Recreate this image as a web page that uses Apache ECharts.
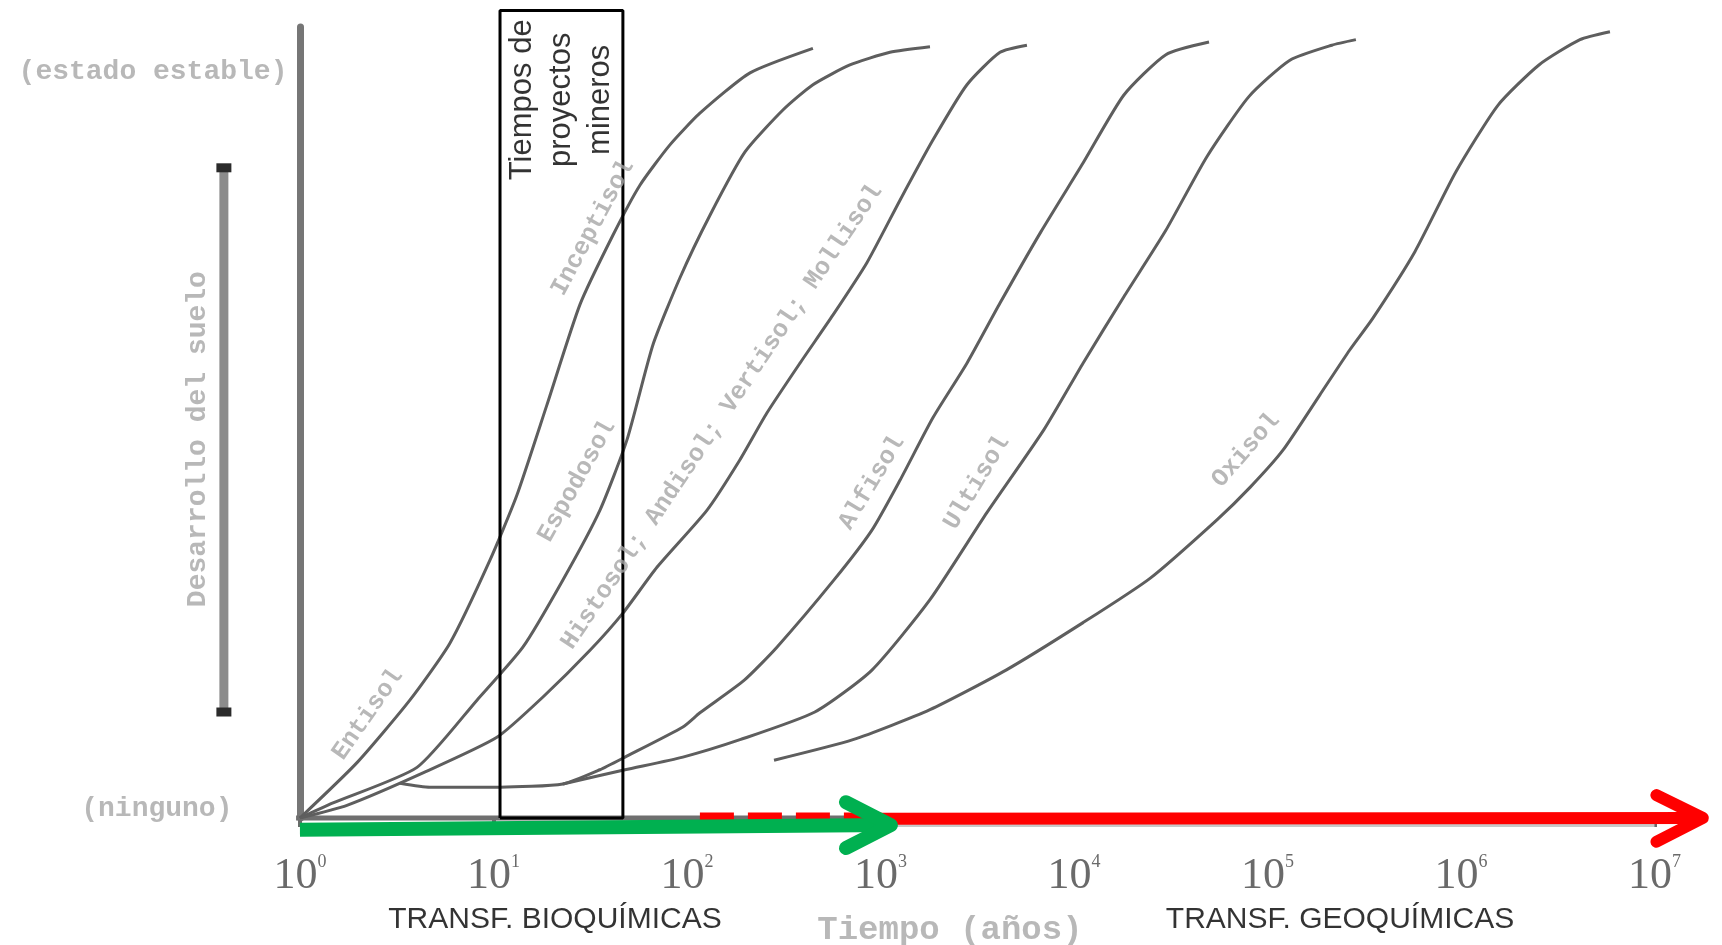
<!DOCTYPE html>
<html><head><meta charset="utf-8">
<script src="https://cdn.jsdelivr.net/npm/echarts@6.0.0/dist/echarts.min.js"></script>
<style>html,body{margin:0;padding:0;background:#fff}#c{width:1722px;height:945px}</style>
</head><body><div id="c"></div><script>
// x = log10(tiempo en años), y = desarrollo del suelo (0 = ninguno, 100 = estado estable)
const tickExponents = [0, 1, 2, 3, 4, 5, 6, 7];
const tickBase = '10';

const curveEntisolInceptisol = [[0,0],[0.295,7.0],[0.568,14.9],[0.775,22.1],[0.982,32.6],[1.121,40.8],[1.276,52.2],[1.447,64.9],[1.618,73.7],[1.757,80.0],[1.912,85.1],[2.067,89.1],[2.326,94.2],[2.651,97.3]];
const curveEspodosol = [[0,0],[0.171,1.9],[0.605,6.4],[0.915,14.9],[1.152,21.6],[1.359,30.1],[1.550,38.9],[1.690,47.8],[1.824,59.8],[1.964,68.3],[2.119,76.2],[2.300,84.2],[2.496,89.5],[2.651,92.7],[2.842,95.2],[3.049,96.8],[3.256,97.5]];
const curveHistosol = [[0,0],[0.243,1.6],[0.636,5.7],[1.018,10.2],[1.256,15.3],[1.499,21.2],[1.669,25.9],[1.845,31.7],[2.103,38.9],[2.274,45.3],[2.413,51.2],[2.584,57.5],[2.755,63.6],[2.930,70.2],[3.101,78.1],[3.271,85.7],[3.447,92.7],[3.618,96.8],[3.757,97.7]];
const curveAlfisol = [[0.517,4.4],[0.672,3.9],[1.034,3.9],[1.359,4.3],[1.550,6.1],[1.680,7.7],[1.979,11.5],[2.067,13.3],[2.295,17.4],[2.465,21.6],[2.760,30.1],[2.956,36.4],[3.101,42.7],[3.271,50.6],[3.447,57.5],[3.618,65.1],[3.829,74.1],[4.047,82.8],[4.258,91.4],[4.475,96.5],[4.698,98.1]];
const curveUltisol = [[1.359,4.3],[1.680,6.1],[1.979,7.7],[2.274,9.9],[2.661,13.4],[2.956,18.7],[3.256,27.6],[3.550,38.6],[3.845,49.1],[4.047,57.5],[4.258,65.9],[4.475,74.3],[4.687,83.6],[4.904,91.2],[5.116,95.8],[5.333,97.7],[5.457,98.4]];
const curveOxisol = [[2.450,7.3],[2.858,9.9],[3.256,13.7],[3.649,18.7],[4.047,24.7],[4.393,30.3],[4.739,37.7],[4.910,41.8],[5.080,46.5],[5.271,53.5],[5.426,59.2],[5.545,63.2],[5.762,71.6],[5.974,81.7],[6.191,90.1],[6.403,95.2],[6.615,98.4],[6.770,99.4]];

// recuadro "Tiempos de proyectos mineros" (de ~10^1 a ~10^1.67 años)
const miningBox = [[1.034,0],[1.034,102.1],[1.669,102.1],[1.669,0],[1.034,0]];
// eje de tiempo y flechas de transformaciones
const timeAxisLine = [[-0.02,0],[7,0]];
const timeAxisEdge = [[3.0,-0.95],[7,-0.95]];
const bioArrowShaft = [[0,-1.5],[3.054,-0.9]];
const bioArrowHead = [[2.822,2.0],[3.054,-0.9],[2.822,-3.8]];
const geoDashed = [[2.067,0.2],[2.987,0.2]];
const geoArrowShaft = [[2.987,-0.1],[7.25,0]];
const geoArrowHead = [[7.01,2.9],[7.25,0],[7.01,-3.0]];
const devArrow = [[-0.393,13.4],[-0.393,82.2]];

// etiquetas de las curvas: texto, x, y, ángulo
const curveLabels = [
  ['Entisol', 0.351, 13.1, 55],
  ['Inceptisol', 1.514, 74.6, 62],
  ['Espodosol', 1.432, 42.6, 61],
  ['Histosol; Andisol; Vertisol; Mollisol', 2.181, 50.7, 56],
  ['Alfisol', 2.956, 42.4, 59],
  ['Ultisol', 3.499, 42.4, 59],
  ['Oxisol', 4.889, 46.5, 49]
];
const yLevelLabels = [['(estado estable)', -0.062, 94.3], ['(ninguno)', -0.346, 1.1]];
const yTitle = ['Desarrollo del suelo', -0.527, 47.9];
const xTitle = ['Tiempo (años)', 3.359, -14.2];
const phaseLabels = [['TRANSF. BIOQUÍMICAS', 1.318, -12.8], ['TRANSF. GEOQUÍMICAS', 5.375, -12.8]];
const boxText = ['Tiempos de\nproyectos\nmineros', 1.349, 90.8];

const chart = echarts.init(document.getElementById('c'));
const greyMono = {fontFamily: 'Liberation Mono', fontWeight: 'bold', color: '#a6a6a6'};

function curve(name, data) {
  return {name, type: 'line', data, smooth: 0.2, symbol: 'none', silent: true,
    lineStyle: {color: '#5e5e5e', width: 3}, z: 3};
}
function poly(data, color, width, extra, z) {
  return {type: 'line', data, symbol: 'none', silent: true, clip: false,
    lineStyle: Object.assign({color, width}, extra || {}), z: z || 5};
}

const annotations = [];
curveLabels.forEach(([t, x, y, a]) => annotations.push({value: [x, y], label: Object.assign({show: true, formatter: t, position: 'inside', rotate: a, fontSize: 25}, greyMono)}));
yLevelLabels.forEach(([t, x, y]) => annotations.push({value: [x, y], label: Object.assign({show: true, formatter: t, position: 'left', distance: 0, fontSize: 28}, greyMono)}));
annotations.push({value: [yTitle[1], yTitle[2]], label: Object.assign({show: true, formatter: yTitle[0], position: 'inside', rotate: 90, fontSize: 28}, greyMono)});
annotations.push({value: [xTitle[1], xTitle[2]], label: Object.assign({show: true, formatter: xTitle[0], position: 'inside', fontSize: 34}, greyMono)});
phaseLabels.forEach(([t, x, y]) => annotations.push({value: [x, y], label: {show: true, formatter: t, position: 'inside', fontFamily: 'Liberation Sans', fontSize: 30, color: '#000'}}));
annotations.push({value: [boxText[1], boxText[2]], label: {show: true, formatter: boxText[0], position: 'inside', rotate: 90, align: 'center', fontFamily: 'Liberation Sans', fontSize: 31, lineHeight: 39, color: '#000'}});

chart.setOption({
  animation: false,
  backgroundColor: '#ffffff',
  grid: {left: 0, right: 0, top: 27, bottom: 127, containLabel: false, outerBoundsMode: 'none'},
  xAxis: {type: 'value', min: -1.55, max: 7.349,
    axisLine: {show: false, onZero: false},
    axisTick: {show: true, customValues: tickExponents, length: 9, lineStyle: {color: '#6a6a6a', width: 4}},
    splitLine: {show: false},
    axisLabel: {customValues: tickExponents, margin: 35, formatter: v => '{b|' + tickBase + '}{s|' + v + '}',
      rich: {b: {fontFamily: 'Liberation Serif', fontSize: 44, color: '#6a6a6a', lineHeight: 46},
             s: {fontFamily: 'Liberation Serif', fontSize: 18, color: '#6a6a6a', verticalAlign: 'top', lineHeight: 22}}}},
  yAxis: {type: 'value', min: 0, max: 100,
    axisLine: {show: true, onZero: true, lineStyle: {color: '#767676', width: 7}},
    axisTick: {show: false}, axisLabel: {show: false}, splitLine: {show: false}},
  series: [
    poly(timeAxisLine, '#6f6f6f', 5, {cap: 'butt'}, 2),
    poly(timeAxisEdge, '#c8c8c8', 3, {cap: 'butt'}, 2),
    curve('Entisol / Inceptisol', curveEntisolInceptisol),
    curve('Espodosol', curveEspodosol),
    curve('Histosol; Andisol; Vertisol; Mollisol', curveHistosol),
    curve('Alfisol', curveAlfisol),
    curve('Ultisol', curveUltisol),
    curve('Oxisol', curveOxisol),
    poly(miningBox, '#000000', 3, {}, 6),
    poly(geoDashed, '#ff0000', 8, {type: [34, 14], cap: 'butt'}, 7),
    poly(geoArrowShaft, '#ff0000', 12, {cap: 'butt'}, 7),
    poly(geoArrowHead, '#ff0000', 12, {cap: 'round', join: 'round'}, 7),
    poly(bioArrowShaft, '#00b050', 14, {cap: 'butt'}, 8),
    poly(bioArrowHead, '#00b050', 14, {cap: 'round', join: 'round'}, 8),
    {type: 'line', data: devArrow, clip: false, silent: true, symbol: 'rect', symbolSize: [15, 9], showSymbol: true,
      itemStyle: {color: '#2b2b2b'}, lineStyle: {color: '#8c8c8c', width: 9}, z: 4},
    {type: 'scatter', data: annotations, symbolSize: 1, itemStyle: {color: 'rgba(0,0,0,0)'}, clip: false, silent: true, z: 10}
  ]
});
</script></body></html>
